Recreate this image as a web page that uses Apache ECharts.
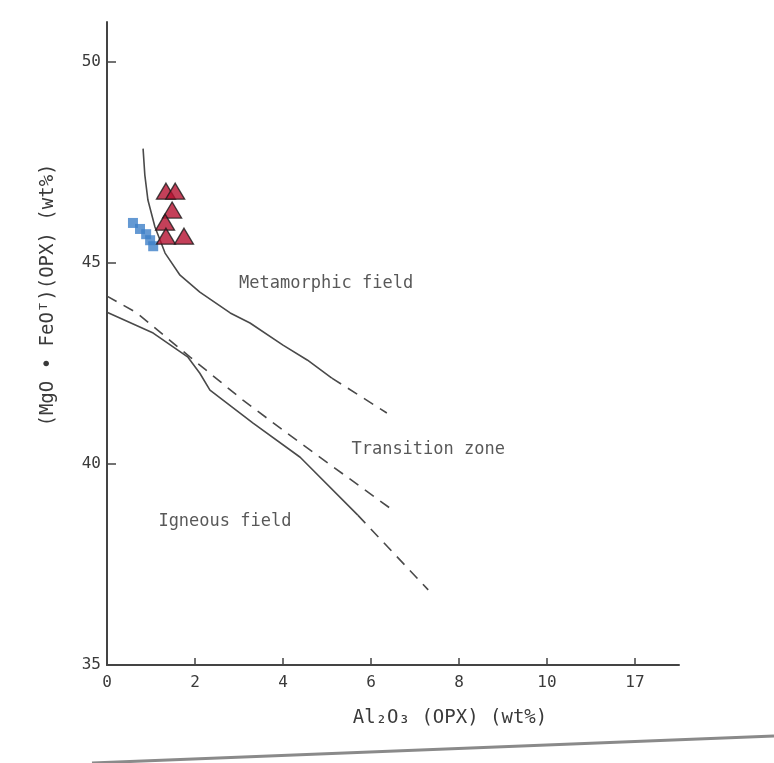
<!DOCTYPE html>
<html>
<head>
<meta charset="utf-8">
<script src="https://cdn.jsdelivr.net/npm/echarts@6/dist/echarts.min.js"></script>
<style>
  html, body { margin: 0; padding: 0; background: #fff; }
  #grafica { width: 774px; height: 763px; }
</style>
</head>
<body>
<div id="grafica"></div>
<script>
// valores
let xTicks = [0, 2, 4, 6, 8, 10, 12];
let xTickLabels = ['0', '2', '4', '6', '8', '10', '17'];
let yTicks = [35, 40, 45, 50];

// limite campo metamorfico (solido) y su continuacion discontinua
let metaSolida = [[0.82, 47.85], [0.86, 47.19], [0.93, 46.57], [1.09, 45.90], [1.32, 45.25], [1.66, 44.70],
    [2.11, 44.28], [2.80, 43.76], [3.25, 43.51], [4.00, 42.96], [4.55, 42.59], [5.11, 42.14]];
let metaDiscontinua = [[5.11, 42.14], [6.36, 41.27]];

// limite zona de transicion (discontinua)
let transicion = [[0, 44.18], [0.68, 43.76], [1.89, 42.66], [3.09, 41.59], [4.09, 40.77], [5.14, 39.93], [6.55, 38.81]];

// limite campo igneo (solido) y su continuacion
let igneaSolida = [[0, 43.78], [1.05, 43.26], [1.84, 42.66], [2.11, 42.26], [2.34, 41.84], [3.32, 41.02],
    [4.39, 40.17], [5.70, 38.73]];
let igneaDiscontinua = [[5.70, 38.73], [7.30, 36.87]];

// muestras
let cuadrados = [[0.59, 46.00], [0.75, 45.85], [0.89, 45.72], [0.98, 45.57], [1.05, 45.42]];
let triangulos = [[1.34, 46.79], [1.55, 46.79], [1.48, 46.32], [1.32, 46.02], [1.34, 45.67], [1.75, 45.67]];

// etiquetas de los campos
let campos = [
    { name: 'Metamorphic field', value: [4.98, 44.50] },
    { name: 'Transition zone', value: [7.30, 40.35] },
    { name: 'Igneous field', value: [2.68, 38.58] }
];

let fuente = 'DejaVu Sans Mono';
let colorTexto = '#3a3a3a';
let colorLinea = '#4a4a4a';

function linea(data, discontinua) {
    return {
        type: 'line',
        data: data,
        symbol: 'none',
        silent: true,
        lineStyle: {
            color: colorLinea,
            width: 1.6,
            type: discontinua ? [11, 8] : 'solid'
        },
        z: 2
    };
}

let chartDom = document.getElementById('grafica');
let myChart = echarts.init(chartDom);
let option = {
    backgroundColor: '#fff',
    animation: false,
    grid: { left: 107, right: 95, top: 22, bottom: 98 },
    xAxis: {
        type: 'value',
        min: 0,
        max: 13,
        name: 'Al₂O₃ (OPX) (wt%)',
        nameLocation: 'middle',
        nameGap: 44,
        nameTextStyle: { fontFamily: fuente, fontSize: 19, color: colorTexto, padding: [0, 0, 0, 114] },
        axisLine: { lineStyle: { color: '#444', width: 2 } },
        axisTick: {
            inside: true, length: 7,
            customValues: xTicks,
            lineStyle: { color: '#444', width: 1.5 }
        },
        axisLabel: {
            customValues: xTicks,
            margin: 10,
            fontFamily: fuente, fontSize: 16, color: colorTexto,
            formatter: function(value) {
                return xTickLabels[xTicks.indexOf(value)];
            }
        },
        splitLine: { show: false }
    },
    yAxis: {
        type: 'value',
        min: 35,
        max: 51,
        axisLine: { lineStyle: { color: '#444', width: 2 } },
        axisTick: {
            inside: true, length: 9,
            customValues: yTicks,
            lineStyle: { color: '#444', width: 1.5 }
        },
        axisLabel: {
            customValues: yTicks,
            margin: 6,
            fontFamily: fuente, fontSize: 16, color: colorTexto
        },
        splitLine: { show: false }
    },
    graphic: [
        {
            type: 'text',
            x: 48, y: 295,
            rotation: Math.PI / 2,
            style: {
                text: '(MgO • FeOᵀ)(OPX) (wt%)',
                fontFamily: fuente, fontSize: 19, fill: colorTexto,
                align: 'center', verticalAlign: 'middle'
            }
        },
        {
            type: 'line',
            shape: { x1: 92, y1: 763, x2: 774, y2: 736 },
            style: { stroke: '#8a8a8a', lineWidth: 3 }
        }
    ],
    series: [
        linea(metaSolida, false),
        linea(metaDiscontinua, true),
        linea(transicion, true),
        linea(igneaSolida, false),
        linea(igneaDiscontinua, true),
        {
            type: 'scatter',
            data: cuadrados,
            symbol: 'rect',
            symbolSize: 10,
            itemStyle: { color: '#3d7fc8' },
            z: 3
        },
        {
            type: 'scatter',
            data: triangulos,
            symbol: 'triangle',
            symbolSize: [19, 16],
            itemStyle: { color: '#b5102f', borderColor: '#1a1a1a', borderWidth: 1.3 },
            z: 4
        },
        {
            type: 'scatter',
            data: campos,
            symbolSize: 0,
            silent: true,
            label: {
                show: true,
                position: 'inside',
                formatter: '{b}',
                fontFamily: fuente, fontSize: 17, color: '#2e2e2e'
            }
        }
    ]
};
option && myChart.setOption(option);
</script>
</body>
</html>
